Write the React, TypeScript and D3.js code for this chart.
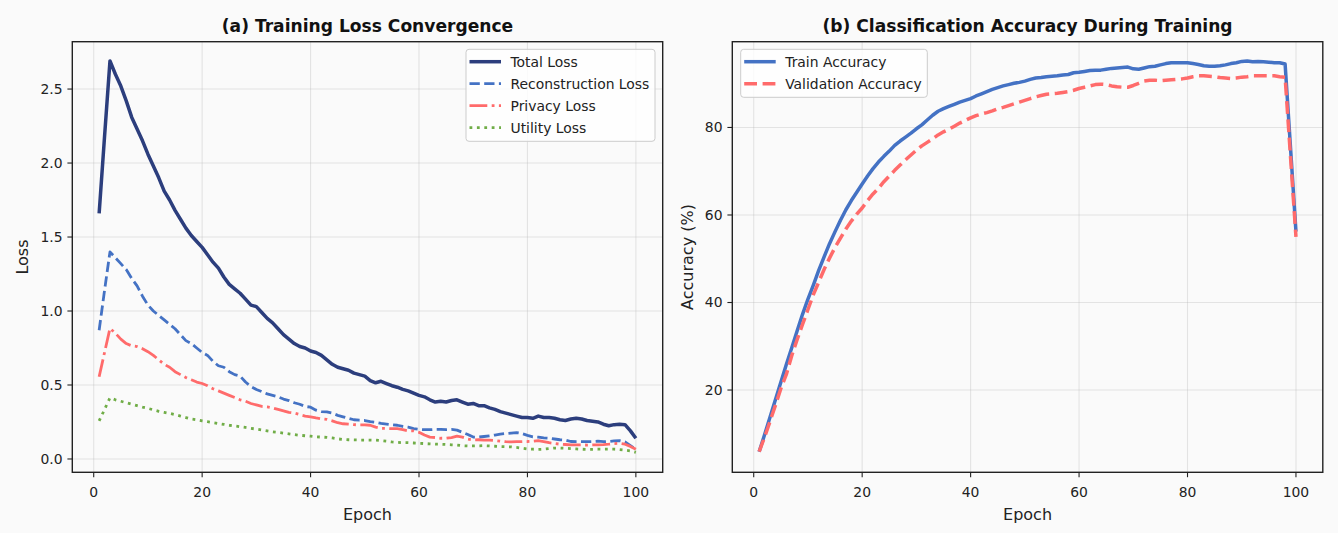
import React from "react";
import * as d3 from "d3";

const epochs: number[] = Array.from({ length: 100 }, (_, i) => i + 1);

const totalLoss = [
  1.66, 2.18, 2.69, 2.6, 2.52, 2.42, 2.31, 2.23, 2.15, 2.06,
  1.98, 1.9, 1.81, 1.75, 1.68, 1.62, 1.56, 1.51, 1.47, 1.43,
  1.38, 1.33, 1.29, 1.23, 1.18, 1.15, 1.12, 1.08, 1.04, 1.03,
  0.99, 0.95, 0.92, 0.88, 0.84, 0.81, 0.78, 0.76, 0.75, 0.73,
  0.72, 0.7, 0.67, 0.64, 0.62, 0.61, 0.6, 0.58, 0.57, 0.56,
  0.53, 0.515, 0.525, 0.51, 0.495, 0.485, 0.47, 0.46, 0.445, 0.43,
  0.42, 0.4, 0.385, 0.39, 0.385, 0.395, 0.4, 0.385, 0.37, 0.375,
  0.36, 0.36, 0.345, 0.335, 0.32, 0.31, 0.3, 0.29, 0.28, 0.28,
  0.275, 0.29, 0.28, 0.28, 0.275, 0.265, 0.26, 0.27, 0.275, 0.27,
  0.26, 0.255, 0.25, 0.235, 0.225, 0.232, 0.234, 0.232, 0.19, 0.14,
];

const reconLoss = [
  0.87, 1.14, 1.4, 1.36, 1.32, 1.28, 1.22, 1.17, 1.1, 1.04,
  1.0, 0.97, 0.94, 0.91, 0.88, 0.84, 0.8, 0.78, 0.75, 0.72,
  0.7, 0.66, 0.63, 0.62, 0.59, 0.57, 0.56, 0.52, 0.49, 0.47,
  0.455, 0.44, 0.43, 0.42, 0.405, 0.395, 0.38, 0.37, 0.355, 0.35,
  0.33, 0.32, 0.318, 0.31, 0.295, 0.285, 0.275, 0.265, 0.262, 0.26,
  0.252, 0.248, 0.24, 0.236, 0.232, 0.228, 0.22, 0.215, 0.205, 0.2,
  0.198, 0.198, 0.2, 0.2, 0.198, 0.2, 0.195, 0.18, 0.165, 0.148,
  0.148, 0.152, 0.156, 0.162, 0.168, 0.172, 0.175, 0.178, 0.172, 0.16,
  0.15, 0.148, 0.142, 0.14, 0.135, 0.13, 0.128, 0.118, 0.117, 0.117,
  0.117, 0.118, 0.12, 0.117, 0.118, 0.122, 0.124, 0.115, 0.09, 0.066,
];

const privacyLoss = [
  0.556, 0.72, 0.883, 0.85, 0.81, 0.78, 0.765, 0.76, 0.745, 0.725,
  0.7, 0.67, 0.64, 0.62, 0.59, 0.57, 0.55, 0.535, 0.52, 0.51,
  0.495, 0.475, 0.46, 0.445, 0.43, 0.415, 0.4, 0.39, 0.375, 0.365,
  0.355, 0.352, 0.345, 0.335, 0.325, 0.315, 0.31, 0.3, 0.29, 0.285,
  0.278, 0.272, 0.268, 0.258, 0.245, 0.238, 0.235, 0.232, 0.23, 0.23,
  0.228, 0.215, 0.207, 0.206, 0.205, 0.205, 0.198, 0.19, 0.19, 0.18,
  0.162, 0.148, 0.145, 0.14, 0.14, 0.145, 0.155, 0.148, 0.135, 0.128,
  0.13, 0.128, 0.128, 0.125, 0.12, 0.117, 0.115, 0.117, 0.117, 0.118,
  0.12, 0.124, 0.118, 0.11, 0.105, 0.1, 0.098, 0.095, 0.095, 0.095,
  0.094, 0.095, 0.096, 0.097, 0.1, 0.104, 0.106, 0.1, 0.085, 0.066,
];

const utilityLoss = [
  0.257, 0.335, 0.414, 0.4, 0.39, 0.38, 0.37, 0.36, 0.35, 0.342,
  0.332, 0.322, 0.315, 0.308, 0.3, 0.29, 0.28, 0.27, 0.265, 0.258,
  0.252, 0.246, 0.24, 0.234, 0.228, 0.223, 0.218, 0.213, 0.207, 0.202,
  0.196, 0.19, 0.184, 0.18, 0.175, 0.17, 0.165, 0.16, 0.157, 0.154,
  0.15, 0.148, 0.146, 0.142, 0.136, 0.132, 0.13, 0.129, 0.128, 0.128,
  0.128, 0.127, 0.124, 0.12, 0.115, 0.112, 0.11, 0.11, 0.108, 0.106,
  0.104, 0.102, 0.1, 0.1, 0.098, 0.096, 0.094, 0.09, 0.088, 0.088,
  0.089, 0.09, 0.088, 0.086, 0.084, 0.083, 0.082, 0.078, 0.073, 0.068,
  0.066, 0.065, 0.066, 0.07, 0.074, 0.074, 0.072, 0.07, 0.068, 0.066,
  0.065, 0.065, 0.066, 0.066, 0.066, 0.066, 0.064, 0.06, 0.055, 0.045,
];

const trainAcc = [
  5.9, 9.8, 13.8, 17.8, 21.8, 25.8, 29.6, 33.5, 37.3, 40.8,
  44.0, 47.4, 50.5, 53.5, 56.2, 58.8, 61.2, 63.3, 65.2, 67.1,
  68.9, 70.6, 72.1, 73.4, 74.6, 75.9, 76.9, 77.8, 78.7, 79.7,
  80.6, 81.7, 82.8, 83.7, 84.3, 84.8, 85.3, 85.8, 86.2, 86.6,
  87.2, 87.7, 88.2, 88.7, 89.1, 89.5, 89.8, 90.1, 90.3, 90.6,
  91.0, 91.3, 91.4, 91.6, 91.7, 91.8, 92.0, 92.1, 92.5, 92.6,
  92.8, 93.0, 93.1, 93.1, 93.3, 93.5, 93.6, 93.7, 93.8, 93.4,
  93.3, 93.6, 93.9, 94.0, 94.3, 94.6, 94.8, 94.8, 94.8, 94.8,
  94.6, 94.4, 94.1, 94.0, 94.0, 94.1, 94.3, 94.6, 94.8, 95.1,
  95.2, 95.0, 95.1, 95.0, 94.9, 94.8, 94.8, 94.5, 75.3, 56.2,
];

const valAcc = [
  5.9, 9.2, 12.8, 16.5, 20.3, 23.5, 27.8, 31.5, 35.0, 38.4,
  41.8, 44.7, 47.6, 50.2, 52.6, 54.7, 56.8, 58.6, 60.2, 61.6,
  63.3, 64.8, 66.1, 67.6, 68.9, 70.2, 71.4, 72.6, 73.7, 74.8,
  75.8, 76.6, 77.4, 78.3, 79.0, 79.6, 80.3, 81.0, 81.6, 82.2,
  82.7, 83.1, 83.4, 83.8, 84.3, 84.6, 85.0, 85.4, 85.8, 86.2,
  86.6, 87.0, 87.3, 87.6, 87.7, 87.8, 88.0, 88.2, 88.5, 88.9,
  89.2, 89.5, 89.8, 89.9, 89.8, 89.5, 89.3, 89.2, 89.2, 89.6,
  90.1, 90.6, 90.8, 90.8, 90.7, 90.8, 90.9, 91.0, 91.1, 91.3,
  91.6, 91.8, 91.8, 91.7, 91.6, 91.4, 91.3, 91.2, 91.3, 91.5,
  91.6, 91.8, 91.8, 91.8, 91.8, 91.8, 91.6, 91.5, 73.2, 55.0,
];

const xTicks = [0, 20, 40, 60, 80, 100];
const lossTicks = [0, 0.5, 1.0, 1.5, 2.0, 2.5];
const accTicks = [20, 40, 60, 80];

const lossSeries = [
  { name: "Total Loss", values: totalLoss },
  { name: "Reconstruction Loss", values: reconLoss },
  { name: "Privacy Loss", values: privacyLoss },
  { name: "Utility Loss", values: utilityLoss },
];
const accSeries = [
  { name: "Train Accuracy", values: trainAcc },
  { name: "Validation Accuracy", values: valAcc },
];

const lossStyles = [
  { color: "#2c3e7d", width: 3.5, dash: "" },
  { color: "#4472c4", width: 2.8, dash: "10.3,4.4" },
  { color: "#ff6b6b", width: 2.8, dash: "17.8,4.4,2.8,4.4" },
  { color: "#70ad47", width: 2.8, dash: "2.8,4.6" },
];
const accStyles = [
  { color: "#4472c4", width: 3.5, dash: "" },
  { color: "#ff6b6b", width: 3.5, dash: "12.8,5.6" },
];

const FONT = "DejaVu Sans, sans-serif";
const BG = "#fafafa";

type Series = { name: string; values: number[] };
type Style = { color: string; width: number; dash: string };

function Panel(props: {
  x0: number;
  x1: number;
  y0: number;
  y1: number;
  yDomain: [number, number];
  yTicks: number[];
  yFmt: (v: number) => string;
  title: string;
  yLabel: string;
  yLabelX: number;
  series: Series[];
  styles: Style[];
  legend: { x: number; y: number; w: number; h: number };
}) {
  const { x0, x1, y0, y1, yDomain, yTicks, yFmt, title, yLabel, yLabelX, series, styles, legend } = props;
  const x = d3.scaleLinear().domain([-3.95, 104.95]).range([x0, x1]);
  const y = d3.scaleLinear().domain(yDomain).range([y1, y0]);
  const line = d3
    .line<number>()
    .x((_, i) => x(epochs[i]))
    .y((d) => y(d));
  const tickLen = 4.9;
  return (
    <g>
      <rect x={x0} y={y0} width={x1 - x0} height={y1 - y0} fill={BG} />
      {xTicks.map((t) => (
        <line key={"gx" + t} x1={x(t)} x2={x(t)} y1={y0} y2={y1} stroke="#b0b0b0" strokeOpacity={0.3} strokeWidth={1.1} />
      ))}
      {yTicks.map((t) => (
        <line key={"gy" + t} x1={x0} x2={x1} y1={y(t)} y2={y(t)} stroke="#b0b0b0" strokeOpacity={0.3} strokeWidth={1.1} />
      ))}
      <clipPath id={"clip" + x0}>
        <rect x={x0} y={y0} width={x1 - x0} height={y1 - y0} />
      </clipPath>
      <g clipPath={`url(#clip${x0})`}>
        {series.map((s, i) => (
          <path
            key={s.name}
            d={line(s.values) || ""}
            fill="none"
            stroke={styles[i].color}
            strokeWidth={styles[i].width}
            strokeDasharray={styles[i].dash || undefined}
            strokeLinejoin="round"
          />
        ))}
      </g>
      <rect x={x0} y={y0} width={x1 - x0} height={y1 - y0} fill="none" stroke="#222" strokeWidth={1.4} />
      {xTicks.map((t) => (
        <g key={"tx" + t}>
          <line x1={x(t)} x2={x(t)} y1={y1} y2={y1 + tickLen} stroke="#222" strokeWidth={1.1} />
          <text x={x(t)} y={y1 + 24.5} textAnchor="middle" fontFamily={FONT} fontSize={13.9} fill="#222">
            {t}
          </text>
        </g>
      ))}
      {yTicks.map((t) => (
        <g key={"ty" + t}>
          <line x1={x0 - tickLen} x2={x0} y1={y(t)} y2={y(t)} stroke="#222" strokeWidth={1.1} />
          <text x={x0 - tickLen - 4.9} y={y(t)} dy="0.35em" textAnchor="end" fontFamily={FONT} fontSize={13.9} fill="#222">
            {yFmt(t)}
          </text>
        </g>
      ))}
      <text x={(x0 + x1) / 2} y={31.5} textAnchor="middle" fontFamily={FONT} fontSize={17.1} fontWeight="bold" fill="#111">
        {title}
      </text>
      <text x={(x0 + x1) / 2} y={520} textAnchor="middle" fontFamily={FONT} fontSize={16} fill="#222">
        Epoch
      </text>
      <text
        transform={`translate(${yLabelX},${(y0 + y1) / 2}) rotate(-90)`}
        textAnchor="middle"
        dy="0.35em"
        fontFamily={FONT}
        fontSize={16}
        fill="#222"
      >
        {yLabel}
      </text>
      <g>
        <rect
          x={legend.x}
          y={legend.y}
          width={legend.w}
          height={legend.h}
          rx={3}
          fill="#ffffff"
          fillOpacity={0.8}
          stroke="#cccccc"
          strokeWidth={1}
        />
        {series.map((s, i) => {
          const ry = legend.y + 12.4 + i * 22;
          return (
            <g key={"lg" + s.name}>
              <line
                x1={legend.x + 3.5}
                x2={legend.x + 35}
                y1={ry}
                y2={ry}
                stroke={styles[i].color}
                strokeWidth={styles[i].width}
                strokeDasharray={styles[i].dash || undefined}
              />
              <text x={legend.x + 44.5} y={ry} dy="0.35em" fontFamily={FONT} fontSize={13.9} fill="#222">
                {s.name}
              </text>
            </g>
          );
        })}
      </g>
    </g>
  );
}

export default function App() {
  return (
    <svg
      width={1338}
      height={533}
      style={{ position: "absolute", left: 0, top: 0, background: BG }}
    >
      <rect x={0} y={0} width={1338} height={533} fill={BG} />
      <Panel
        x0={72.3}
        x1={662.7}
        y0={41.7}
        y1={472.3}
        yDomain={[-0.09, 2.82]}
        yTicks={lossTicks}
        yFmt={(v) => v.toFixed(1)}
        title="(a) Training Loss Convergence"
        yLabel="Loss"
        yLabelX={22}
        series={lossSeries}
        styles={lossStyles}
        legend={{ x: 466, y: 49.3, w: 189, h: 92 }}
      />
      <Panel
        x0={732.3}
        x1={1322.8}
        y0={41.7}
        y1={472.3}
        yDomain={[1.2, 99.6]}
        yTicks={accTicks}
        yFmt={(v) => String(v)}
        title="(b) Classification Accuracy During Training"
        yLabel="Accuracy (%)"
        yLabelX={687}
        series={accSeries}
        styles={accStyles}
        legend={{ x: 740.7, y: 49.3, w: 186.6, h: 48 }}
      />
    </svg>
  );
}
